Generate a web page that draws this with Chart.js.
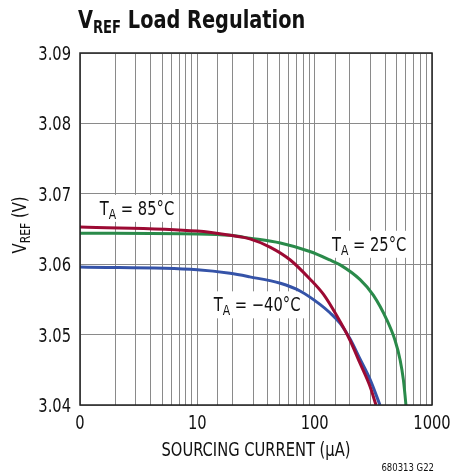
<!DOCTYPE html>
<html lang="en">
  <head>
    <meta charset="UTF-8" />
    <title>VREF Load Regulation</title>
    <script src="https://cdn.jsdelivr.net/npm/chart.js"></script>
    <style>
      body { margin: 0; background: #fff; }
    </style>
  </head>
  <body>
    <canvas id="loadChart" width="451" height="476"></canvas>
    <script>
      // sourcing current (uA) and VREF (V) per temperature
      const current85 = [1, 10, 19, 28, 42, 62, 91, 119, 154, 200, 244, 297, 333];
      const vref85 = [3.0653, 3.0647, 3.0641, 3.0636, 3.0624, 3.0606, 3.0579, 3.0557, 3.0527, 3.0492, 3.0459, 3.0426, 3.04];

      const current25 = [1, 10, 19, 28, 51, 91, 135, 165, 244, 316, 412, 484, 535, 570, 598, 606];
      const vref25 = [3.0644, 3.0643, 3.0641, 3.0637, 3.063, 3.0618, 3.0606, 3.0599, 3.0578, 3.0556, 3.0521, 3.0492, 3.0464, 3.0436, 3.0402, 3.039];

      const currentM40 = [1, 10, 19, 28, 51, 75, 111, 135, 165, 200, 244, 297, 360];
      const vrefM40 = [3.0596, 3.0592, 3.0587, 3.0582, 3.0573, 3.0562, 3.0543, 3.0531, 3.0516, 3.0494, 3.0465, 3.0436, 3.04];

      const xTickValues = [1, 10, 100, 1000];
      const xTickLabels = ['0', '10', '100', '1000'];
      const yTickValues = [3.04, 3.05, 3.06, 3.07, 3.08, 3.09];

      const FONT = '"DejaVu Sans Condensed", "DejaVu Sans", sans-serif';
      const SQUEEZE = 0.86;
      Chart.defaults.font.family = FONT;

      const toPoints = (xs, ys) => xs.map((x, i) => ({ x: x, y: ys[i] }));

      function piecesWidth(ctx, pieces, weight) {
        let w = 0;
        pieces.forEach((p) => {
          ctx.font = weight + ' ' + p[1] + 'px ' + FONT;
          w += ctx.measureText(p[0]).width;
        });
        return w * SQUEEZE;
      }
      // text pieces drawn side by side in a narrowed font, e.g. [['T', 19, 0], ['A', 14, 4]]
      function drawPieces(ctx, pieces, x, y, weight, align) {
        const w = piecesWidth(ctx, pieces, weight);
        let start = x;
        if (align === 'center') start = x - w / 2;
        if (align === 'right') start = x - w;
        ctx.save();
        ctx.translate(start, y);
        ctx.scale(SQUEEZE, 1);
        ctx.textAlign = 'left';
        ctx.textBaseline = 'alphabetic';
        let cx = 0;
        pieces.forEach((p) => {
          ctx.font = weight + ' ' + p[1] + 'px ' + FONT;
          ctx.fillText(p[0], cx, p[2]);
          cx += ctx.measureText(p[0]).width;
        });
        ctx.restore();
        return w;
      }

      const labelNotes = [
        { text: '85°C', x: 3.06, y: 3.068 },
        { text: '25°C', x: 291, y: 3.0629 },
        { text: '−40°C', x: 32.3, y: 3.0543 }
      ];

      const decorations = {
        id: 'decorations',
        // curve labels sit on white boxes over the grid, under the curves
        beforeDatasetsDraw(chart) {
          const ctx = chart.ctx;
          const xs = chart.scales.x;
          const ys = chart.scales.y;
          ctx.save();
          labelNotes.forEach((n) => {
            const pieces = [['T', 19, 0], ['A', 14, 4], [' = ' + n.text, 19, 0]];
            const w = piecesWidth(ctx, pieces, 'normal');
            const cx = xs.getPixelForValue(n.x);
            const cy = ys.getPixelForValue(n.y);
            ctx.fillStyle = '#fff';
            ctx.fillRect(cx - w / 2 - 5, cy - 13, w + 10, 27);
            ctx.fillStyle = '#111';
            drawPieces(ctx, pieces, cx, cy + 7, 'normal', 'center');
          });
          ctx.restore();
        },
        afterDraw(chart) {
          const ctx = chart.ctx;
          const area = chart.chartArea;
          const xs = chart.scales.x;
          const ys = chart.scales.y;
          ctx.save();
          ctx.fillStyle = '#111';

          // frame
          ctx.strokeStyle = '#222';
          ctx.lineWidth = 1.5;
          ctx.strokeRect(area.left, area.top, area.right - area.left, area.bottom - area.top);

          // tick labels
          yTickValues.forEach((v) => {
            drawPieces(ctx, [[v.toFixed(2), 19, 0]], area.left - 9, ys.getPixelForValue(v) + 7, 'normal', 'right');
          });
          xTickValues.forEach((v, i) => {
            drawPieces(ctx, [[xTickLabels[i], 19, 0]], xs.getPixelForValue(v), area.bottom + 24, 'normal', 'center');
          });

          // title
          drawPieces(ctx, [['V', 25, 0], ['REF', 17, 5], [' Load Regulation', 25, 0]], 78, 28, 'bold', 'left');

          // y axis title, rotated
          ctx.save();
          ctx.translate(26, (area.top + area.bottom) / 2 - 4);
          ctx.rotate(-Math.PI / 2);
          drawPieces(ctx, [['V', 19, 0], ['REF', 14, 4], [' (V)', 19, 0]], 0, 0, 'normal', 'center');
          ctx.restore();

          // x axis title and figure id
          drawPieces(ctx, [['SOURCING CURRENT (µA)', 19, 0]], (area.left + area.right) / 2, 456, 'normal', 'center');
          drawPieces(ctx, [['680313 G22', 11, 0]], 434, 471, 'normal', 'right');
          ctx.restore();
        }
      };

      const ctx = document.getElementById('loadChart').getContext('2d');
      new Chart(ctx, {
        type: 'line',
        data: {
          datasets: [
            { label: 'TA = 85°C', data: toPoints(current85, vref85), borderColor: '#9c0a33' },
            { label: 'TA = 25°C', data: toPoints(current25, vref25), borderColor: '#2a8a4a' },
            { label: 'TA = -40°C', data: toPoints(currentM40, vrefM40), borderColor: '#3553a8' }
          ]
        },
        options: {
          responsive: false,
          animation: false,
          layout: { padding: { top: 53, right: 19, left: 0, bottom: 0 } },
          elements: {
            line: { borderWidth: 3, cubicInterpolationMode: 'monotone', fill: false },
            point: { radius: 0 }
          },
          plugins: {
            legend: { display: false },
            tooltip: { enabled: false }
          },
          scales: {
            x: {
              type: 'logarithmic',
              min: 1,
              max: 1000,
              afterFit: (scale) => {
                scale.height = 71;
                scale.paddingLeft = 0;
                scale.paddingRight = 0;
              },
              grid: { color: '#8a8a8a', lineWidth: 1, drawTicks: false },
              border: { display: false },
              ticks: { display: false, autoSkip: false }
            },
            y: {
              min: 3.04,
              max: 3.09,
              afterFit: (scale) => {
                scale.width = 80;
                scale.paddingTop = 0;
                scale.paddingBottom = 0;
              },
              grid: { color: '#8a8a8a', lineWidth: 1, drawTicks: false },
              border: { display: false },
              ticks: { display: false, stepSize: 0.01 }
            }
          }
        },
        plugins: [decorations]
      });
    </script>
  </body>
</html>
